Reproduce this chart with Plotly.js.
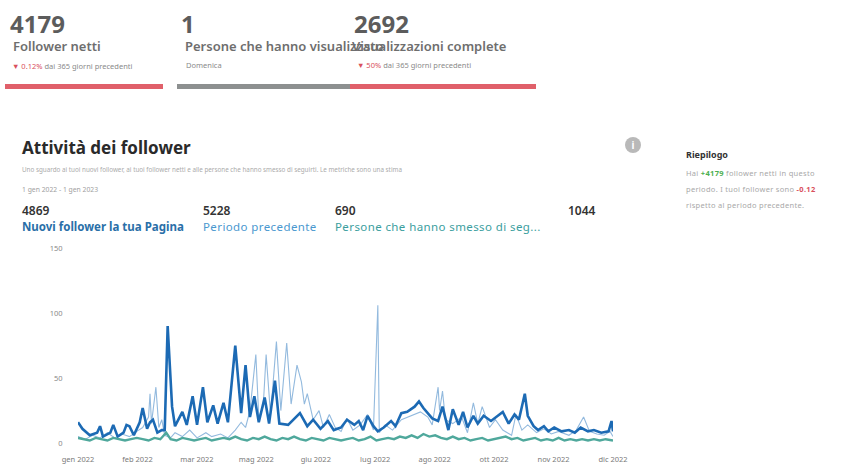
<!DOCTYPE html>
<html>
<head>
<meta charset="utf-8">
<script src="https://cdn.plot.ly/plotly-3.0.1.min.js"></script>
<style>
  html,body{margin:0;padding:0;background:#fff;}
  #wrap{position:relative;width:844px;height:464px;overflow:hidden;font-family:"Noto Sans","Open Sans",sans-serif;}
  #chart{position:absolute;left:0;top:0;width:844px;height:464px;}
  .t{position:absolute;white-space:nowrap;pointer-events:none;line-height:1;}
  .bar{position:absolute;height:5px;}
</style>
</head>
<body>
<div id="wrap">
  <div id="chart"></div>

  <div class="t" style="left:10px;top:12px;font-size:24px;font-weight:700;color:#5c5c5c;">4179</div>
  <div class="t" style="left:13px;top:40px;font-size:13px;font-weight:600;color:#6e6e6e;">Follower netti</div>
  <div class="t" style="left:12px;top:63px;font-size:7.5px;color:#8a8a8a;"><span style="color:#d9505c">▼ 0.12%</span> dai 365 giorni precedenti</div>
  <div class="bar" style="left:5px;top:84px;width:158px;background:#e0606a;"></div>

  <div class="t" style="left:181px;top:12px;font-size:24px;font-weight:700;color:#5c5c5c;">1</div>
  <div class="t" style="left:185px;top:40px;font-size:13px;font-weight:600;color:#6e6e6e;">Persone che hanno visualizzato</div>
  <div class="t" style="left:186px;top:62px;font-size:7.5px;color:#8a8a8a;">Domenica</div>
  <div class="bar" style="left:177px;top:84px;width:173px;background:#8d9090;"></div>

  <div class="t" style="left:354px;top:12px;font-size:24px;font-weight:700;color:#5c5c5c;">2692</div>
  <div class="t" style="left:352px;top:40px;font-size:13px;font-weight:600;color:#6e6e6e;">Visualizzazioni complete</div>
  <div class="t" style="left:357px;top:62px;font-size:7.5px;color:#8a8a8a;"><span style="color:#d9505c">▼ 50%</span> dai 365 giorni precedenti</div>
  <div class="bar" style="left:350px;top:84px;width:186px;background:#e0606a;"></div>

  <div class="t" style="left:22px;top:139px;font-size:17px;font-weight:700;color:#2a2a2a;">Attività dei follower</div>
  <div class="t" style="left:22px;top:167px;font-size:6.3px;color:#ababab;">Uno sguardo ai tuoi nuovi follower, ai tuoi follower netti e alle persone che hanno smesso di seguirti. Le metriche sono una stima</div>
  <div class="t" style="left:22px;top:187px;font-size:6.8px;color:#a0a0a0;">1 gen 2022 - 1 gen 2023</div>

  <div class="t" style="left:22px;top:205px;font-size:12px;font-weight:600;color:#333;">4869</div>
  <div class="t" style="left:22px;top:221px;font-size:11.5px;font-weight:700;color:#2a6fa8;">Nuovi follower la tua Pagina</div>
  <div class="t" style="left:203px;top:205px;font-size:12px;font-weight:600;color:#333;">5228</div>
  <div class="t" style="left:203px;top:221px;font-size:11.5px;letter-spacing:0.4px;color:#4a98cf;">Periodo precedente</div>
  <div class="t" style="left:335px;top:205px;font-size:12px;font-weight:600;color:#333;">690</div>
  <div class="t" style="left:335px;top:221px;font-size:11.5px;letter-spacing:0.4px;color:#3a9e9e;">Persone che hanno smesso di seg...</div>
  <div class="t" style="left:568px;top:205px;font-size:12px;font-weight:600;color:#333;">1044</div>

  <div style="position:absolute;left:625px;top:137px;width:16px;height:16px;border-radius:50%;background:#b9b9b9;color:#fff;font-size:10px;font-weight:700;text-align:center;line-height:16px;font-family:'Noto Sans',sans-serif;">i</div>
  <div class="t" style="left:686px;top:150px;font-size:9px;font-weight:700;color:#333;">Riepilogo</div>
  <div class="t" style="left:686px;top:170px;font-size:7.5px;letter-spacing:0.3px;color:#a8a8a8;">Hai <b style="color:#4caf50">+4179</b> follower netti in questo</div>
  <div class="t" style="left:686px;top:186px;font-size:7.5px;letter-spacing:0.3px;color:#a8a8a8;">periodo. I tuoi follower sono <b style="color:#d9505c">-0.12</b></div>
  <div class="t" style="left:686px;top:202px;font-size:7.5px;letter-spacing:0.3px;color:#a8a8a8;">rispetto al periodo precedente.</div>
</div>

<script>
// ---- data (day index from 1 gen 2022) ----
const monthLabels = ["gen 2022","feb 2022","mar 2022","mag 2022","giu 2022","lug 2022","ago 2022","ott 2022","nov 2022","dic 2022"];
const yTicks = [0, 50, 100, 150];

const newDays = [0,3,8,13,15,17,22,24,27,31,33,35,38,42,44,47,49,51,54,57,59,61,64,66,71,74,78,81,85,88,92,95,99,102,107,111,114,117,120,123,127,130,134,137,143,148,151,156,160,165,170,174,179,183,188,191,194,197,201,204,208,213,216,220,224,229,232,235,238,241,245,248,252,255,259,262,265,269,272,276,281,286,289,293,297,300,304,306,310,313,317,320,324,329,334,338,342,347,351,356,361,363,364];
const newVals = [16,11,6,8,13,5,8,14,5,8,14,13,6,16,27,11,16,18,8,10,10,90,28,13,24,14,36,14,43,16,29,15,31,16,75,23,60,20,36,16,35,15,48,15,14,20,23,13,18,11,17,10,12,18,14,17,10,21,13,9,12,17,13,23,24,28,32,27,23,19,17,28,10,26,14,24,12,21,15,21,17,21,24,15,22,18,38,21,13,10,13,9,12,9,10,8,12,9,10,8,9,17,9];

const prevDays = [0,5,10,15,20,25,30,35,40,44,48,49,50,53,55,57,59,63,66,71,76,81,87,91,97,102,107,111,114,117,121,123,126,128,131,135,138,142,145,149,152,154,156,160,164,167,171,175,179,183,187,192,197,201,204,205,209,214,220,224,229,233,238,241,245,246,248,250,255,261,265,269,272,275,280,284,289,295,298,302,306,312,317,322,327,334,339,344,348,353,358,362,364];
const prevVals = [5,3,6,4,8,4,7,5,9,12,20,38,15,43,12,18,6,4,8,5,10,4,8,5,7,4,10,16,12,25,68,20,28,68,22,78,25,77,30,60,47,30,38,18,25,12,22,12,9,19,10,14,22,10,106,8,14,10,18,20,22,24,20,14,43,25,40,18,15,20,8,31,15,28,12,18,10,6,22,10,14,8,11,7,9,6,10,20,9,7,6,9,5];

const lostDays = [0,4,8,12,16,20,24,28,32,36,40,44,48,52,56,60,63,67,71,75,79,83,87,91,95,99,103,107,111,115,119,123,127,131,135,139,143,147,151,155,159,163,167,171,175,179,183,187,191,195,199,203,207,211,215,219,223,227,231,235,239,243,247,251,255,259,263,267,271,275,279,283,287,291,295,299,303,307,311,315,319,323,327,331,335,339,343,347,351,355,359,364];
const lostVals = [4,3,2,4,3,2,4,3,2,3,4,3,2,4,3,8,3,2,4,3,2,3,4,2,3,4,3,5,3,2,4,3,5,3,2,4,3,5,3,2,4,3,2,4,3,2,3,4,2,3,5,2,3,4,3,5,4,6,4,7,5,6,4,3,5,3,4,2,3,4,2,3,4,5,3,4,2,3,4,2,3,2,4,2,3,2,3,2,3,2,3,2];

const nDays = 364;
const tickPos = monthLabels.map((_, i) => i * nDays / (monthLabels.length - 1));

const traces = [
  {x: prevDays, y: prevVals, type: 'scatter', mode: 'lines', name: 'Periodo precedente',
   line: {color: '#93bade', width: 1.1}},
  {x: newDays, y: newVals, type: 'scatter', mode: 'lines', name: 'Nuovi follower la tua Pagina',
   line: {color: '#1c6ab4', width: 2.6}},
  {x: lostDays, y: lostVals, type: 'scatter', mode: 'lines', name: 'Persone che hanno smesso di seguire',
   line: {color: '#4fa89c', width: 2.4}}
];

const layout = {
  width: 844, height: 464,
  margin: {l: 78, r: 231, t: 248, b: 17},
  paper_bgcolor: 'rgba(0,0,0,0)', plot_bgcolor: 'rgba(0,0,0,0)',
  showlegend: false,
  font: {family: 'Noto Sans, sans-serif', color: '#8a8a8a', size: 7.5},
  xaxis: {range: [0, nDays], tickvals: tickPos, ticktext: monthLabels, showgrid: false,
          zeroline: false, showline: false, ticks: 'outside', ticklen: 5, tickcolor: 'rgba(0,0,0,0)',
          tickfont: {size: 7.5, color: '#7a7a7a'}},
  yaxis: {range: [-3, 150], tickvals: yTicks, showgrid: false, zeroline: false, showline: false,
          ticks: 'outside', ticklen: 13, tickcolor: 'rgba(0,0,0,0)',
          tickfont: {size: 7.5, color: '#8a8a8a'}}
};

Plotly.newPlot('chart', traces, layout, {displayModeBar: false, staticPlot: true});
</script>
</body>
</html>
